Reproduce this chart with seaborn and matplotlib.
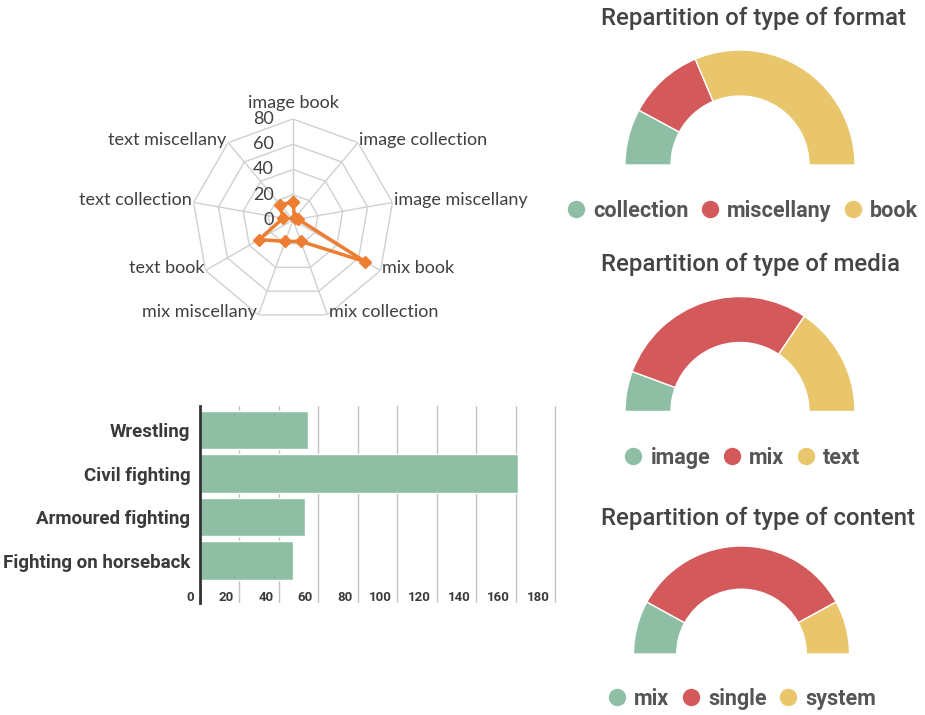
import numpy as np
import matplotlib
matplotlib.use("Agg")
import matplotlib.pyplot as plt
from matplotlib.lines import Line2D
import matplotlib.transforms as mtransforms
import seaborn as sns

# radar data (clockwise from top)
radar_labels = ["image book", "image collection", "image miscellany", "mix book",
                "mix collection", "mix miscellany", "text book", "text collection",
                "text miscellany"]
radar_values = [14, 2, 4, 66, 18, 18, 31, 8, 16]
radar_levels = [0, 20, 40, 60, 80]

# bar data
fight_types = ["Wrestling", "Civil fighting", "Armoured fighting", "Fighting on horseback"]
fight_counts = [55, 161, 53, 47]
bar_ticks = [0, 20, 40, 60, 80, 100, 120, 140, 160, 180]

# half donuts
format_labels = ["collection", "miscellany", "book"]
format_values = [28, 38, 111]
media_labels = ["image", "mix", "text"]
media_values = [20, 102, 55]
content_labels = ["mix", "single", "system"]
content_values = [16, 68, 16]

GREEN = "#8EBFA4"
RED = "#D4595B"
YELLOW = "#E9C56C"
ORANGE = "#ED7D31"

sns.set_style("white")
plt.rcParams["font.family"] = ["Roboto", "DejaVu Sans"]

W, H = 925, 715
fig = plt.figure(figsize=(W / 100, H / 100), dpi=100)


def px_rect(left, top, width, height):
    return [left / W, 1 - (top + height) / H, width / W, height / H]


# ---------- radar ----------
cx, cy, R = 293, 220, 101
ax = fig.add_axes(px_rect(cx - R, cy - R, 2 * R, 2 * R), projection="polar")
ax.set_theta_offset(np.pi / 2)
ax.set_theta_direction(-1)
ax.set_ylim(0, 80)
ax.grid(False)
ax.spines["polar"].set_visible(False)
ax.set_xticks([])
ax.set_yticks([])
ax.set_facecolor("none")

n = len(radar_labels)
angles = np.linspace(0, 2 * np.pi, n, endpoint=False)
closed = np.append(angles, angles[0])
for r in radar_levels[1:]:
    ax.plot(closed, [r] * (n + 1), color="#d0d0d0", lw=1, zorder=1)
for a in angles:
    ax.plot([a, a], [0, 80], color="#d0d0d0", lw=1, zorder=1)

vals = radar_values + radar_values[:1]
ax.plot(closed, vals, color=ORANGE, lw=2.5, marker="D", ms=6, zorder=3)

radar_font = dict(family=["Lato", "DejaVu Sans"], fontsize=13, color="#404040")
for a, lab in zip(angles, radar_labels):
    deg = np.degrees(a)
    if deg < 1:
        ha, off = "center", (0, 6)
        va = "bottom"
    elif deg < 180:
        ha, off, va = "left", (1, 2), "center"
    else:
        ha, off, va = "right", (-1, 2), "center"
    ax.annotate(lab, xy=(a, 80), xytext=off, textcoords="offset points",
                ha=ha, va=va, annotation_clip=False, **radar_font)
for r in radar_levels:
    ax.annotate(str(r), xy=(0, r), xytext=(-14, 0), textcoords="offset points",
                ha="right", va="center", annotation_clip=False, **radar_font)

# ---------- bar chart ----------
bx = fig.add_axes(px_rect(200, 406, 357, 197))
sns.barplot(x=fight_counts, y=fight_types, orient="h", color=GREEN, saturation=1,
            width=0.88, edgecolor="white", linewidth=1, ax=bx)
bx.set_xlim(0, 181)
bx.set_ylim(3.977, -0.552)
bx.set_axisbelow(True)
bx.set_xticks(bar_ticks)
bx.xaxis.grid(True, color="#c4c4c4", lw=1)
bx.tick_params(axis="x", labelbottom=False, length=0)
bx.tick_params(axis="y", length=0, pad=7)
for lab in bx.get_yticklabels():
    lab.set_fontsize(13.5)
    lab.set_fontweight("bold")
    lab.set_color("#3a3a3a")
for s in ["top", "right", "bottom"]:
    bx.spines[s].set_visible(False)
bx.spines["left"].set_color("#333333")
bx.spines["left"].set_linewidth(2)
bx.set_xlabel("")
bx.set_ylabel("")
trans = mtransforms.blended_transform_factory(bx.transData, bx.transAxes)
for t in bar_ticks:
    bx.annotate(str(t), xy=(t, 0.03), xycoords=trans, xytext=(-4, 0),
                textcoords="offset points", ha="right", va="center",
                fontsize=9.5, fontweight="bold", color="#3a3a3a")

# ---------- half donuts ----------
colors = [GREEN, RED, YELLOW]
donuts = [
    ("Repartition of type of format", format_labels, format_values, (740, 165, 115), 18, 211),
    ("Repartition of type of media", media_labels, media_values, (740, 411.5, 115), 264, 458),
    ("Repartition of type of content", content_labels, content_values, (741.5, 654, 108), 518, 699),
]
for title, labels, values, (dx, dy, dr), ty, ly in donuts:
    dax = fig.add_axes(px_rect(dx - dr, dy - dr, 2 * dr, dr))
    wedges, _ = dax.pie(values + [sum(values)], colors=colors + ["none"],
                        startangle=180, counterclock=False, radius=1,
                        wedgeprops=dict(width=0.4, edgecolor="white", linewidth=1))
    wedges[-1].set_visible(False)
    dax.set_xlim(-1, 1)
    dax.set_ylim(0, 1)
    fig.text(601 / W, 1 - ty / H, title, ha="left", va="center", fontsize=17.3,
             fontweight="medium", color="#444444")
    handles = [Line2D([], [], marker="o", ls="", color=c, ms=11.5) for c in colors]
    fig.legend(handles, labels, loc="center", bbox_to_anchor=(742.5 / W, 1 - ly / H),
               ncol=3, frameon=False, handlelength=0.8, handletextpad=0.4,
               columnspacing=0.6, borderpad=0,
               prop=dict(family="Roboto", size=15.5, weight="bold"),
               labelcolor="#555555")

fig.savefig("out.png", dpi=100)
